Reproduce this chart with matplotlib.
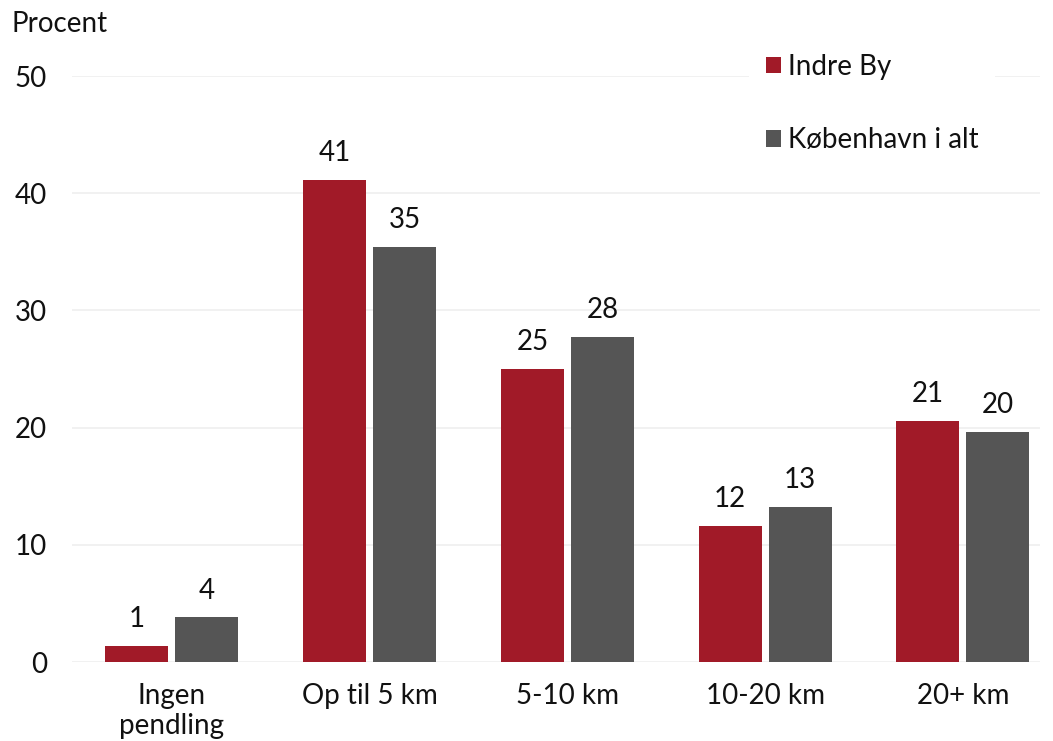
import numpy as np
import matplotlib
matplotlib.use('Agg')
import matplotlib.pyplot as plt

plt.rcParams['font.family'] = ['Lato', 'DejaVu Sans']

# pendlingsafstand, andel i procent
kategorier = ["Ingen\npendling", "Op til 5 km", "5-10 km", "10-20 km", "20+ km"]
indre_by = [1.4, 41.1, 25.0, 11.6, 20.6]
kbh_i_alt = [3.8, 35.4, 27.7, 13.2, 19.6]
serier = ["Indre By", "København i alt"]

rod = "#A11A28"
graa = "#555555"
fs = 20

fig = plt.figure(figsize=(10.53, 7.41), dpi=100)
ax = fig.add_axes([0.0684, 0.1066, 0.9193, 0.7908])

x = np.arange(len(kategorier))
b = 0.318
off = 0.177
s1 = ax.bar(x - off, indre_by, b, color=rod, label=serier[0], zorder=3)
s2 = ax.bar(x + off, kbh_i_alt, b, color=graa, label=serier[1], zorder=3)

for bars, vals in [(s1, indre_by), (s2, kbh_i_alt)]:
    for r, v in zip(bars, vals):
        ax.annotate(f"{v:.0f}", (r.get_x() + r.get_width() / 2, v),
                    xytext=(0, 10), textcoords="offset points",
                    ha="center", va="bottom", fontsize=fs, color="#111111")

ax.set_ylim(0, 50)
ax.set_xlim(-0.505, 4.39)
ax.set_yticks([0, 10, 20, 30, 40, 50])
ax.set_xticks(x)
ax.set_xticklabels(kategorier, fontsize=fs, linespacing=1.2)
ax.tick_params(axis='y', labelsize=fs, length=0, pad=18)
ax.tick_params(axis='x', length=0, pad=15)
for lab in ax.get_yticklabels() + ax.get_xticklabels():
    lab.set_color("#111111")

ax.grid(axis='y', color="#EFEFEF", linewidth=1.2, zorder=0)
for sp in ax.spines.values():
    sp.set_visible(False)

fig.text(0.011, 0.968, "Procent", fontsize=fs, color="#111111", va="center", ha="left")

leg = ax.legend(loc="upper left", bbox_to_anchor=(0.685, 1.09), fontsize=fs,
                frameon=True, facecolor="white", edgecolor="none", framealpha=1,
                handlelength=0.55, handleheight=0.55, handletextpad=0.25,
                labelspacing=1.7, borderpad=0.6)
for t in leg.get_texts():
    t.set_color("#111111")

fig.savefig("out.png", dpi=100)
